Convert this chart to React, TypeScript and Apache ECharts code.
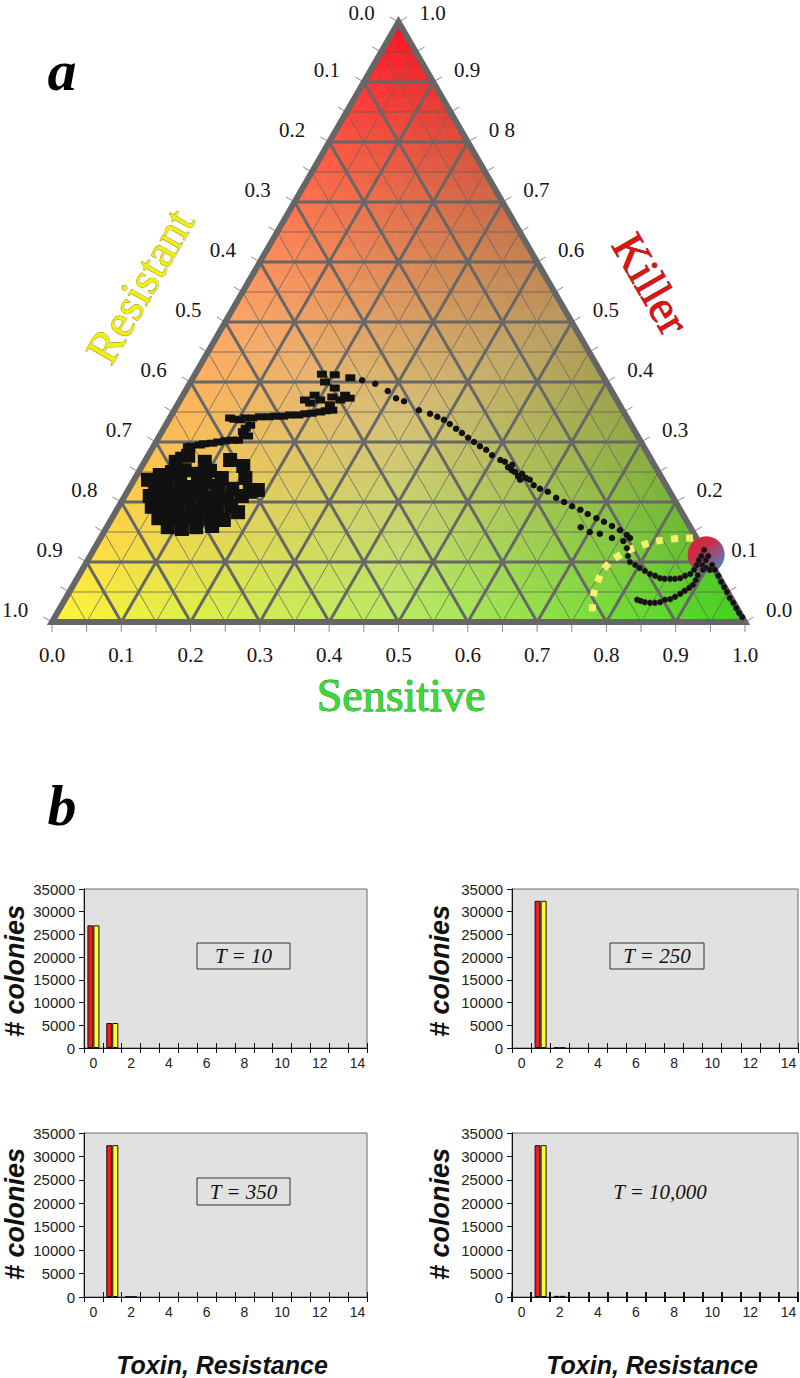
import React, { useEffect, useRef } from "react";
import * as echarts from "echarts";

// ---------- Ternary plot data (each point = [Sensitive, Killer]; Resistant = 1 - S - K) ----------
const bottomTickLabels = ["0.0", "0.1", "0.2", "0.3", "0.4", "0.5", "0.6", "0.7", "0.8", "0.9", "1.0"]; // Sensitive
const leftTickLabels = ["0.0", "0.1", "0.2", "0.3", "0.4", "0.5", "0.6", "0.7", "0.8", "0.9", "1.0"]; // Resistant (0 at top)
const rightTickLabels = ["0.0", "0.1", "0.2", "0.3", "0.4", "0.5", "0.6", "0.7", "0 8", "0.9", "1.0"]; // Killer (0 at bottom)
const tickValues = [0, 0.1, 0.2, 0.3, 0.4, 0.5, 0.6, 0.7, 0.8, 0.9, 1.0];

const blobPoints: number[][] = [
  [0.033, 0.245], [0.048, 0.25], [0.065, 0.253], [0.087, 0.247], [0.102, 0.252], [0.125, 0.24],
  [0.035, 0.228], [0.052, 0.227], [0.07, 0.23], [0.091, 0.225], [0.105, 0.232], [0.126, 0.227], [0.149, 0.222],
  [0.036, 0.21], [0.055, 0.208], [0.071, 0.212], [0.093, 0.207], [0.109, 0.212], [0.13, 0.208], [0.151, 0.205], [0.169, 0.21],
  [0.048, 0.192], [0.068, 0.19], [0.085, 0.193], [0.107, 0.188], [0.123, 0.193], [0.143, 0.19], [0.162, 0.193],
  [0.067, 0.173], [0.086, 0.172], [0.103, 0.175], [0.124, 0.17], [0.142, 0.173], [0.163, 0.17],
  [0.088, 0.158], [0.11, 0.155], [0.129, 0.158], [0.151, 0.16],
  [0.02, 0.237], [0.045, 0.267], [0.087, 0.267], [0.122, 0.27], [0.146, 0.26], [0.177, 0.217], [0.187, 0.22],
  [0.177, 0.183], [0.159, 0.24], [0.058, 0.277],
];

const trailPoints: number[][] = [
  [0.046, 0.278], [0.05, 0.292], [0.053, 0.293], [0.066, 0.295], [0.071, 0.297], [0.082, 0.298], [0.09, 0.3],
  [0.099, 0.302], [0.108, 0.303], [0.117, 0.303], [0.128, 0.31], [0.121, 0.312], [0.117, 0.317], [0.122, 0.328],
  [0.118, 0.323], [0.103, 0.337], [0.087, 0.34], [0.094, 0.338], [0.109, 0.34], [0.119, 0.34], [0.129, 0.342],
  [0.141, 0.342], [0.15, 0.343], [0.162, 0.343], [0.171, 0.345], [0.183, 0.345], [0.192, 0.347], [0.201, 0.348],
  [0.212, 0.35], [0.219, 0.352], [0.228, 0.353], [0.18, 0.37], [0.19, 0.365], [0.19, 0.378], [0.202, 0.37],
  [0.217, 0.375], [0.231, 0.37], [0.234, 0.378], [0.243, 0.373], [0.213, 0.39], [0.194, 0.4], [0.183, 0.413],
  [0.202, 0.412], [0.227, 0.407], [0.22, 0.362],
];

const descentPoints: number[][] = [
  [0.246, 0.403], [0.268, 0.397], [0.292, 0.385], [0.31, 0.373], [0.324, 0.368], [0.353, 0.353], [0.372, 0.347],
  [0.385, 0.342], [0.397, 0.337], [0.409, 0.33], [0.422, 0.322], [0.434, 0.315], [0.447, 0.307], [0.459, 0.3],
  [0.471, 0.293], [0.483, 0.287], [0.496, 0.278],
  [0.512, 0.27], [0.52, 0.267], [0.529, 0.258], [0.533, 0.262], [0.543, 0.25], [0.551, 0.243], [0.555, 0.247],
  [0.564, 0.24], [0.571, 0.237], [0.537, 0.253], [0.557, 0.237], [0.581, 0.228],
  [0.593, 0.222], [0.607, 0.217], [0.624, 0.207], [0.639, 0.2], [0.654, 0.193], [0.669, 0.187], [0.683, 0.18],
  [0.699, 0.173], [0.713, 0.167], [0.728, 0.16], [0.743, 0.153], [0.757, 0.145], [0.764, 0.14],
  [0.757, 0.135], [0.738, 0.14], [0.717, 0.147], [0.701, 0.15], [0.684, 0.158],
];

const finalPoints: number[][] = [
  [0.768, 0.123], [0.776, 0.11],
  [0.784, 0.1], [0.794, 0.095], [0.803, 0.09], [0.813, 0.085], [0.823, 0.08], [0.832, 0.077], [0.841, 0.073],
  [0.848, 0.072], [0.856, 0.072], [0.863, 0.072], [0.87, 0.073], [0.875, 0.077], [0.881, 0.08], [0.883, 0.087],
  [0.883, 0.095], [0.882, 0.103], [0.882, 0.11], [0.881, 0.12],
  [0.826, 0.037], [0.832, 0.035], [0.839, 0.033], [0.847, 0.032], [0.854, 0.032], [0.861, 0.033], [0.866, 0.037],
  [0.873, 0.038], [0.878, 0.042], [0.883, 0.047], [0.887, 0.052], [0.891, 0.057], [0.894, 0.062], [0.894, 0.07],
  [0.893, 0.078], [0.891, 0.095], [0.896, 0.087], [0.899, 0.09], [0.892, 0.103], [0.906, 0.087],
  [0.892, 0.11], [0.905, 0.095], [0.913, 0.087], [0.923, 0.077], [0.932, 0.067], [0.941, 0.058], [0.949, 0.05],
  [0.958, 0.04], [0.967, 0.032], [0.976, 0.023], [0.984, 0.015], [0.992, 0.008],
];

const frontierPoints: number[][] = [
  [0.855, 0.14], [0.816, 0.137], [0.785, 0.127], [0.764, 0.112], [0.753, 0.092], [0.754, 0.065], [0.762, 0.037], [0.776, 0.007],
];

const attractorPoint: number[][] = [[0.888, 0.112]];

// ---------- Histogram data ----------
const categories = ["0", "1", "2", "3", "4", "5", "6", "7", "8", "9", "10", "11", "12", "13", "14"];
const t10Toxin = [27000, 5500, 0, 0, 0, 0, 0, 0, 0, 0, 0, 0, 0, 0, 0];
const t10Resistance = [27000, 5500, 0, 0, 0, 0, 0, 0, 0, 0, 0, 0, 0, 0, 0];
const t250Toxin = [0, 32400, 80, 0, 0, 0, 0, 0, 0, 0, 0, 0, 0, 0, 0];
const t250Resistance = [0, 32400, 80, 0, 0, 0, 0, 0, 0, 0, 0, 0, 0, 0, 0];
const t350Toxin = [0, 32400, 80, 0, 0, 0, 0, 0, 0, 0, 0, 0, 0, 0, 0];
const t350Resistance = [0, 32400, 80, 0, 0, 0, 0, 0, 0, 0, 0, 0, 0, 0, 0];
const t10000Toxin = [0, 32400, 250, 0, 0, 0, 0, 0, 0, 0, 0, 0, 0, 0, 0];
const t10000Resistance = [0, 32400, 250, 0, 0, 0, 0, 0, 0, 0, 0, 0, 0, 0, 0];
const panelLabels = ["T = 10", "T = 250", "T = 350", "T = 10,000"];

// ---------- helpers ----------
const SERIF = '"Liberation Serif", "Times New Roman", serif';
const SANS = '"Liberation Sans", Arial, sans-serif';

const toXY = (p: number[]) => [p[0] + p[1] / 2, p[1]];

const RED = [252, 18, 38];
const YELLOW = [255, 245, 55];
const GREEN = [62, 212, 28];
function ternColor(s: number, k: number) {
  const r = Math.max(0, 1 - s - k);
  const lin = [0, 1, 2].map((i) => r * YELLOW[i] + k * RED[i] + s * GREEN[i]);
  const t = 0.55 * (1 - Math.max(s, k, r));
  const c = lin.map((v) => Math.round(v + t * (255 - v)));
  return `rgb(${c[0]},${c[1]},${c[2]})`;
}

// mesh for the colour fill (layout, not data)
const N = 40;
const mesh: number[][] = [];
for (let i = 0; i < N; i++) {
  for (let j = 0; j < N - i; j++) {
    mesh.push([i / N, j / N, (i + 1) / N, j / N, i / N, (j + 1) / N]);
    if (i + j < N - 1) mesh.push([(i + 1) / N, j / N, i / N, (j + 1) / N, (i + 1) / N, (j + 1) / N]);
  }
}

// grid lines: [s1,k1,s2,k2,thick]
const gridLines: number[][] = [];
for (let v = 1; v < 20; v++) {
  const f = v / 20;
  const thick = v % 2 === 0 ? 1 : 0;
  gridLines.push([0, f, 1 - f, f, thick]);
  gridLines.push([f, 0, f, 1 - f, thick]);
  gridLines.push([1 - f, 0, 0, 1 - f, thick]);
}
gridLines.sort((a, b) => a[4] - b[4]);

// ticks: [s,k,dx,dy]
const ticks: number[][] = [];
for (let v = 0; v <= 20; v++) {
  const f = v / 20;
  ticks.push([f, 0, 0, 1]);
  ticks.push([0, f, -0.866, -0.5]);
  ticks.push([1 - f, f, 0.866, -0.5]);
}

// tick labels
const labelItems: { value: number[]; name: string }[] = [];
tickValues.forEach((v, i) => {
  labelItems.push({ value: [v, 0, 0, 33], name: bottomTickLabels[i] });
  labelItems.push({ value: [0, 1 - v, -37, v === 0 ? -9 : -12], name: leftTickLabels[i] });
  labelItems.push({ value: [1 - v, v, 34, v === 1 ? -9 : -12], name: rightTickLabels[i] });
});

function buildOption() {
  const grids: any[] = [{ left: 52, top: 22, width: 693, height: 600 }];
  const xAxes: any[] = [{ type: "value", gridIndex: 0, min: 0, max: 1, show: false }];
  const yAxes: any[] = [{ type: "value", gridIndex: 0, min: 0, max: 1, show: false }];

  const series: any[] = [
    {
      type: "custom",
      xAxisIndex: 0,
      yAxisIndex: 0,
      silent: true,
      progressive: 0,
      data: mesh,
      renderItem: (params: any, api: any) => {
        const pts = [0, 2, 4].map((d) => api.coord(toXY([api.value(d), api.value(d + 1)])));
        const cs = (api.value(0) + api.value(2) + api.value(4)) / 3;
        const ck = (api.value(1) + api.value(3) + api.value(5)) / 3;
        const c = ternColor(cs, ck);
        return { type: "polygon", shape: { points: pts }, style: { fill: c, stroke: c, lineWidth: 0.7 } };
      },
    },
    {
      type: "custom",
      xAxisIndex: 0,
      yAxisIndex: 0,
      silent: true,
      progressive: 0,
      data: gridLines,
      renderItem: (params: any, api: any) => {
        const p1 = api.coord(toXY([api.value(0), api.value(1)]));
        const p2 = api.coord(toXY([api.value(2), api.value(3)]));
        const thick = api.value(4) === 1;
        return {
          type: "line",
          shape: { x1: p1[0], y1: p1[1], x2: p2[0], y2: p2[1] },
          style: { stroke: thick ? "#676767" : "rgba(95,95,95,0.75)", lineWidth: thick ? 3 : 1 },
        };
      },
    },
    {
      type: "custom",
      xAxisIndex: 0,
      yAxisIndex: 0,
      silent: true,
      progressive: 0,
      data: ticks,
      renderItem: (params: any, api: any) => {
        const p = api.coord(toXY([api.value(0), api.value(1)]));
        return {
          type: "line",
          shape: { x1: p[0], y1: p[1], x2: p[0] + 10 * api.value(2), y2: p[1] + 10 * api.value(3) },
          style: { stroke: "#8a8a8a", lineWidth: 1 },
        };
      },
    },
    {
      type: "custom",
      xAxisIndex: 0,
      yAxisIndex: 0,
      silent: true,
      data: [[0, 0, 1, 0, 0, 1]],
      renderItem: (params: any, api: any) => {
        const pts = [
          api.coord(toXY([0, 0])),
          api.coord(toXY([1, 0])),
          api.coord(toXY([0, 1])),
        ];
        return {
          type: "polygon",
          shape: { points: pts },
          style: { fill: "none", stroke: "#666666", lineWidth: 6, lineJoin: "miter" },
        };
      },
    },
    {
      type: "custom",
      xAxisIndex: 0,
      yAxisIndex: 0,
      silent: true,
      progressive: 0,
      data: labelItems,
      renderItem: (params: any, api: any) => {
        const p = api.coord(toXY([api.value(0), api.value(1)]));
        return {
          type: "text",
          x: p[0] + api.value(2),
          y: p[1] + api.value(3),
          style: {
            text: labelItems[params.dataIndex].name,
            fill: "#151515",
            font: `21px ${SERIF}`,
            align: "center",
            verticalAlign: "middle",
          },
        };
      },
    },
    {
      type: "line",
      xAxisIndex: 0,
      yAxisIndex: 0,
      silent: true,
      smooth: 0.4,
      symbol: "none",
      data: frontierPoints.map(toXY),
      lineStyle: { color: "#f6f070", width: 7, type: [7, 8], cap: "butt" },
      z: 3,
    },
    {
      type: "scatter",
      xAxisIndex: 0,
      yAxisIndex: 0,
      silent: true,
      symbol: "circle",
      symbolSize: 37,
      data: attractorPoint.map(toXY),
      itemStyle: {
        color: new echarts.graphic.LinearGradient(0, 0, 1, 1, [
          { offset: 0, color: "#e0203a" },
          { offset: 0.4, color: "#c8304a" },
          { offset: 0.65, color: "#8a5a8a" },
          { offset: 1, color: "#3a9ad0" },
        ]),
        opacity: 1,
      },
      z: 4,
    },
    {
      type: "scatter",
      xAxisIndex: 0,
      yAxisIndex: 0,
      silent: true,
      symbol: "rect",
      symbolSize: 14,
      data: blobPoints.map(toXY),
      itemStyle: { color: "#111111", opacity: 1 },
      z: 5,
    },
    {
      type: "scatter",
      xAxisIndex: 0,
      yAxisIndex: 0,
      silent: true,
      symbol: "rect",
      symbolSize: [10, 7],
      data: trailPoints.map(toXY),
      itemStyle: { color: "#111111", opacity: 1 },
      z: 5,
    },
    {
      type: "scatter",
      xAxisIndex: 0,
      yAxisIndex: 0,
      silent: true,
      symbol: "circle",
      symbolSize: 6.5,
      data: descentPoints.map(toXY),
      itemStyle: { color: "#111111", opacity: 1 },
      z: 5,
    },
    {
      type: "scatter",
      xAxisIndex: 0,
      yAxisIndex: 0,
      silent: true,
      symbol: "circle",
      symbolSize: 6,
      data: finalPoints.map(toXY),
      itemStyle: { color: "#111111", borderColor: "#444", borderWidth: 0.5, opacity: 1 },
      z: 5,
    },
  ];

  const panels = [
    { g: { left: 84, top: 889, width: 283, height: 159 }, toxin: t10Toxin, res: t10Resistance },
    { g: { left: 512, top: 889, width: 286, height: 159 }, toxin: t250Toxin, res: t250Resistance },
    { g: { left: 84, top: 1133, width: 283, height: 164 }, toxin: t350Toxin, res: t350Resistance },
    { g: { left: 512, top: 1133, width: 286, height: 164 }, toxin: t10000Toxin, res: t10000Resistance },
  ];

  panels.forEach((p, i) => {
    const gi = i + 1;
    grids.push({ ...p.g, show: true, backgroundColor: "#e1e1e1", borderColor: "#6a6a6a", borderWidth: 1 });
    const xi = xAxes.length;
    xAxes.push({
      type: "category",
      gridIndex: gi,
      data: categories,
      boundaryGap: true,
      axisLine: { show: true, lineStyle: { color: "#111", width: 1 } },
      axisTick: { show: true, interval: 0, length: 5, lineStyle: { color: "#111", width: i === 3 ? 2 : 1 } },
      axisLabel: { interval: 1, fontSize: 14, color: "#222", fontFamily: SANS, margin: 8 },
      splitLine: { show: false },
    });
    xAxes.push({
      type: "category",
      gridIndex: gi,
      data: categories,
      position: "bottom",
      boundaryGap: true,
      axisLine: { show: false },
      axisTick: { show: true, inside: true, interval: 0, length: 5, lineStyle: { color: "#111", width: i === 3 ? 2 : 1 } },
      axisLabel: { show: false },
      splitLine: { show: false },
    });
    const yi = yAxes.length;
    yAxes.push({
      type: "value",
      gridIndex: gi,
      min: 0,
      max: 35000,
      interval: 5000,
      axisLine: { show: true, lineStyle: { color: "#111", width: 1 } },
      axisTick: { show: true, length: 5, lineStyle: { color: "#111" } },
      axisLabel: { fontSize: 15, color: "#222", fontFamily: SANS, margin: 9, formatter: (v: number) => String(v) },
      splitLine: { show: false },
    });
    const clean = (arr: number[]) => arr.map((v) => (v === 0 ? null : v));
    series.push({
      type: "bar",
      xAxisIndex: xi,
      yAxisIndex: yi,
      data: clean(p.toxin),
      barWidth: 6,
      barGap: "0%",
      itemStyle: { color: "#ee1c1c", borderColor: "#111", borderWidth: 1 },
      silent: true,
    });
    series.push({
      type: "bar",
      xAxisIndex: xi,
      yAxisIndex: yi,
      data: clean(p.res),
      barWidth: 6,
      barGap: "0%",
      itemStyle: { color: "#ffff30", borderColor: "#111", borderWidth: 1 },
      silent: true,
    });
  });

  const boxes = [
    { rect: [197, 943, 93, 26], box: true },
    { rect: [610, 943, 94, 26], box: true },
    { rect: [197, 1178, 93, 27], box: true },
    { rect: [613, 1179, 94, 26], box: false },
  ];

  const graphic: any[] = [
    { type: "text", x: 62, y: 70, style: { text: "a", font: `italic bold 58px ${SERIF}`, fill: "#000", align: "center", verticalAlign: "middle" } },
    { type: "text", x: 62, y: 805, style: { text: "b", font: `italic bold 58px ${SERIF}`, fill: "#000", align: "center", verticalAlign: "middle" } },
    {
      type: "text", x: 140, y: 286, rotation: Math.PI / 3,
      style: { text: "Resistant", font: `46px ${SERIF}`, fill: "#f2ee10", stroke: "#7c7a10", lineWidth: 0.8, align: "center", verticalAlign: "middle" },
    },
    {
      type: "text", x: 651, y: 284, rotation: -Math.PI / 3,
      style: { text: "Killer", font: `46px ${SERIF}`, fill: "#dd1414", stroke: "#6a0808", lineWidth: 0.8, align: "center", verticalAlign: "middle" },
    },
    {
      type: "text", x: 401, y: 695,
      style: { text: "Sensitive", font: `46px ${SERIF}`, fill: "#35dd35", stroke: "#1d6a1d", lineWidth: 0.8, align: "center", verticalAlign: "middle" },
    },
  ];

  [[15, 971], [440, 971], [15, 1214], [440, 1214]].forEach(([x, y]) => {
    graphic.push({
      type: "text", x, y, rotation: Math.PI / 2,
      style: { text: "# colonies", font: `italic bold 27px ${SANS}`, fill: "#111", align: "center", verticalAlign: "middle" },
    });
  });
  [[222, 1365], [652, 1365]].forEach(([x, y]) => {
    graphic.push({
      type: "text", x, y,
      style: { text: "Toxin, Resistance", font: `italic bold 25px ${SANS}`, fill: "#111", align: "center", verticalAlign: "middle" },
    });
  });
  boxes.forEach((b, i) => {
    const [x, y, w, h] = b.rect;
    if (b.box) {
      graphic.push({ type: "rect", shape: { x, y, width: w, height: h }, style: { fill: "#e1e1e1", stroke: "#333", lineWidth: 1 }, z: 10 });
    }
    graphic.push({
      type: "text", x: x + w / 2, y: y + h / 2, z: 11,
      style: { text: panelLabels[i], font: `italic 21px ${SERIF}`, fill: "#111", align: "center", verticalAlign: "middle" },
    });
  });

  return {
    animation: false,
    backgroundColor: "#ffffff",
    grid: grids,
    xAxis: xAxes,
    yAxis: yAxes,
    series,
    graphic,
  };
}

export default function App() {
  const ref = useRef<HTMLDivElement>(null);
  useEffect(() => {
    if (!ref.current) return;
    const chart = echarts.init(ref.current, null, { renderer: "svg", width: 800, height: 1378 });
    chart.setOption(buildOption() as any);
    return () => chart.dispose();
  }, []);
  return <div ref={ref} style={{ position: "absolute", left: 0, top: 0, width: 800, height: 1378 }} />;
}
